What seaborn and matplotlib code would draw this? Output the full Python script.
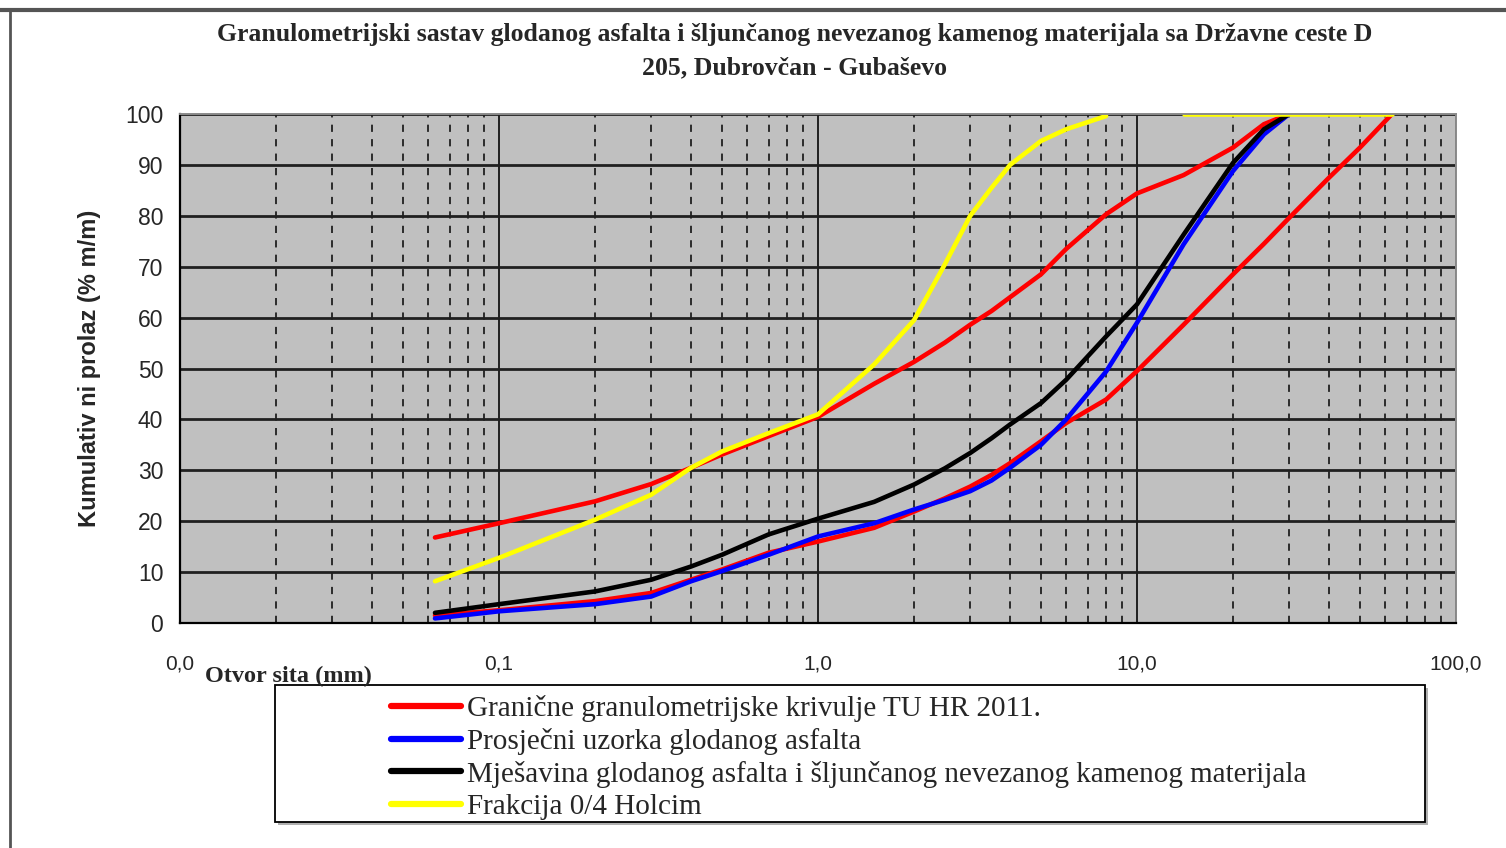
import numpy as np
import pandas as pd
import seaborn as sns
import matplotlib.pyplot as plt
from matplotlib.ticker import FixedLocator, LogLocator, NullFormatter
from matplotlib.lines import Line2D
from matplotlib.patches import Rectangle

# sieve openings (mm)
sieve = [0.063, 0.1, 0.2, 0.3, 0.4, 0.5, 0.7, 1, 1.5, 2, 2.5, 3, 3.5, 4, 5, 6, 8,
         10, 14, 20, 25, 30, 40, 50, 63]

nan = np.nan
# granicne krivulje TU HR 2011 (upper and lower)
granicna_gornja = [16.8, 19.6, 23.9, 27.3, 30.5, 33.1, 36.7, 40.5, 47.0, 51.3, 55.1, 58.6, 61.3, 64.0, 68.5, 73.5, 80.3,
                   84.4, 88.0, 93.4, 98.0, 100, nan, nan, nan]
granicna_donja = [1.5, 2.5, 4.3, 5.9, 8.5, 10.5, 13.8, 16.0, 18.7, 21.9, 24.5, 26.8, 29.1, 31.4, 35.7, 39.3, 43.9,
                  49.5, 58.6, 68.5, 74.5, 79.6, 87.5, 93.4, 100]
# prosjecni uzorak glodanog asfalta
prosjecni_uzorak = [0.9, 2.3, 3.7, 5.2, 8.2, 10.2, 13.4, 17.0, 19.6, 22.3, 24.2, 25.9, 28.0, 30.5, 35.0, 40.0, 49.4,
                    59.0, 74.4, 88.8, 96.0, 100, nan, nan, nan]
# mjesavina
mjesavina = [2.0, 3.7, 6.2, 8.5, 11.1, 13.4, 17.4, 20.5, 23.8, 27.2, 30.4, 33.4, 36.3, 39.0, 43.2, 47.8, 56.3,
             62.6, 76.3, 90.4, 97.0, 100, nan, nan, nan]
# frakcija 0/4 Holcim (line breaks at 10 mm)
frakcija_04 = [8.2, 12.8, 20.3, 25.2, 30.5, 33.7, 37.3, 41.0, 50.8, 59.5, 70.5, 80.0, 85.5, 90.0, 94.7, 97.0, 99.6,
               nan, 100, 100, 100, 100, 100, 100, 100]

legend_labels = ['Granične granulometrijske krivulje TU HR 2011.',
                 'Prosječni uzorka glodanog asfalta',
                 'Mješavina glodanog asfalta i šljunčanog nevezanog kamenog materijala',
                 'Frakcija 0/4 Holcim']
x_ticks = [0.01, 0.1, 1, 10, 100]
x_tick_labels = ['0,0', '0,1', '1,0', '10,0', '100,0']
y_ticks = list(range(0, 101, 10))

colors = {'gornja': '#ff0000', 'donja': '#ff0000', 'uzorak': '#0000ff',
          'mjesavina': '#000000', 'frakcija': '#ffff00'}

# build a long table, splitting a series into parts where it has gaps
rows = []
for key, vals in [('gornja', granicna_gornja), ('donja', granicna_donja),
                  ('uzorak', prosjecni_uzorak), ('mjesavina', mjesavina),
                  ('frakcija', frakcija_04)]:
    part = 0
    for s, v in zip(sieve, vals):
        if np.isnan(v):
            part += 1
            continue
        rows.append({'sito': s, 'prolaz': v, 'serija': key, 'dio': key + str(part)})
df = pd.DataFrame(rows)

sns.set_theme(style='white')
plt.rcParams['font.family'] = ['Liberation Sans', 'DejaVu Sans']

fig = plt.figure(figsize=(15.06, 8.48), dpi=100)
ax = fig.add_axes([180 / 1506, 1 - 623 / 848, 1276 / 1506, 509 / 848])
ax.set_facecolor('#c0c0c0')

sns.lineplot(data=df, x='sito', y='prolaz', hue='serija', units='dio', estimator=None,
             palette=colors, hue_order=list(colors.keys()), linewidth=3.3,
             legend=False, sort=False, ax=ax)

ax.set_xscale('log')
ax.set_xlim(0.01, 100)
ax.set_ylim(0, 100)
ax.xaxis.set_major_locator(FixedLocator(x_ticks))
ax.set_xticklabels(x_tick_labels)
ax.xaxis.set_minor_locator(LogLocator(base=10, subs=np.arange(2, 10)))
ax.xaxis.set_minor_formatter(NullFormatter())
ax.set_yticks(y_ticks)
ax.set_xlabel('')
ax.set_ylabel('')

# grid: solid horizontals and decades, dashed minor verticals
ax.grid(which='major', axis='y', color='#202020', linewidth=2)
ax.grid(which='major', axis='x', color='#202020', linewidth=1.4)
ax.grid(which='minor', axis='x', color='#202020', linewidth=1.3, linestyle=(0, (4, 4)))
ax.set_axisbelow(True)

ax.tick_params(which='both', direction='out', length=6, width=1.4, color='black')
ax.tick_params(axis='x', which='major', pad=17, labelsize=15)
ax.tick_params(axis='y', which='major', pad=6, labelsize=16.5)

for side in ['left', 'bottom']:
    ax.spines[side].set_color('black')
    ax.spines[side].set_linewidth(1.6)
for side in ['top', 'right']:
    ax.spines[side].set_color('#8a8a8a')
    ax.spines[side].set_linewidth(1.4)

# titles and axis labels
fig.text(795 / 1506, 1 - 35 / 848,
         'Granulometrijski sastav glodanog asfalta i šljunčanog nevezanog kamenog materijala sa Državne ceste D',
         ha='center', va='center', fontsize=18.5, fontweight='bold', family='Liberation Serif')
fig.text(795 / 1506, 1 - 68 / 848, '205, Dubrovčan - Gubaševo',
         ha='center', va='center', fontsize=18.5, fontweight='bold', family='Liberation Serif')
fig.text(90 / 1506, 1 - 368 / 848, 'Kumulativ ni prolaz (% m/m)', rotation=90,
         ha='center', va='center', fontsize=17, fontweight='bold')
fig.text(205 / 1506, 1 - 676 / 848, 'Otvor sita (mm)', ha='left', va='center',
         fontsize=17.5, fontweight='bold', family='Liberation Serif')

# legend box below the plot
fig.add_artist(Rectangle((278 / 1506, 1 - 825 / 848), 1150 / 1506, 137 / 848,
                         transform=fig.transFigure, facecolor='#b0b0b0', edgecolor='none'))
fig.add_artist(Rectangle((275 / 1506, 1 - 822 / 848), 1150 / 1506, 137 / 848,
                         transform=fig.transFigure, facecolor='white', edgecolor='black', linewidth=1.3))
handles = [Line2D([], [], color=c, linewidth=4.5) for c in ['#ff0000', '#0000ff', '#000000', '#ffff00']]
fig.legend(handles, legend_labels, loc='upper left', bbox_to_anchor=(391 / 1506, 1 - 695 / 848),
           frameon=False, borderpad=0, borderaxespad=0, handlelength=2.4, handletextpad=0.2,
           labelspacing=0.2, prop={'family': 'Liberation Serif', 'size': 21})

# outer frame of the picture
fig.add_artist(Line2D([0, 1], [1 - 10 / 848, 1 - 10 / 848], transform=fig.transFigure,
                      color='#555555', linewidth=3))
fig.add_artist(Line2D([10 / 1506, 10 / 1506], [0, 1 - 10 / 848], transform=fig.transFigure,
                      color='#555555', linewidth=2))

fig.savefig('out.png', dpi=100)
